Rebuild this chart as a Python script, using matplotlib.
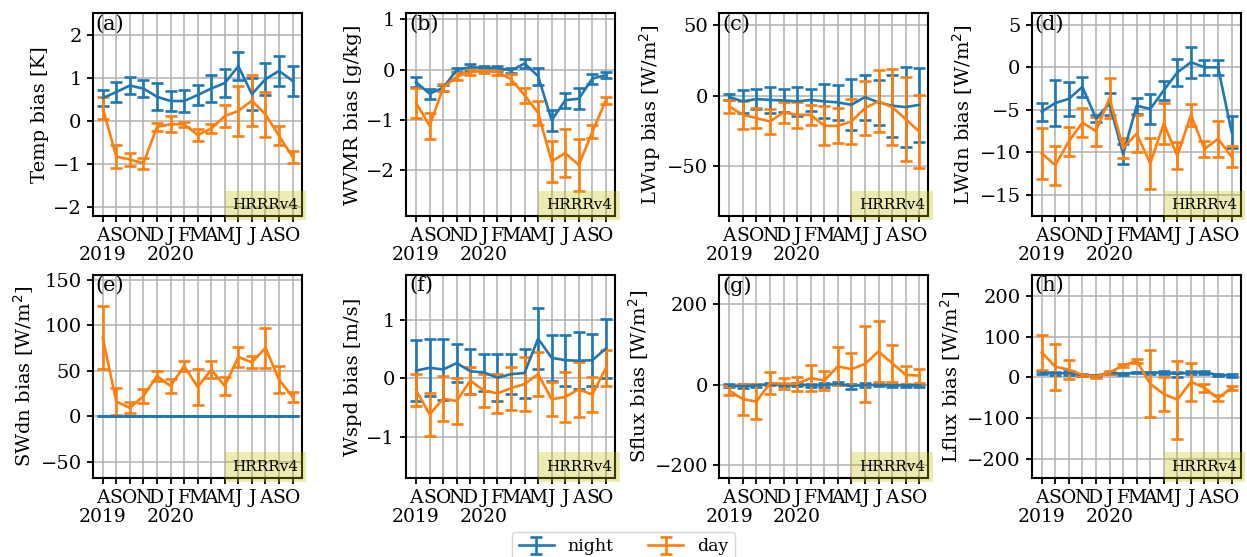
import matplotlib
matplotlib.use("Agg")
import matplotlib.pyplot as plt
import numpy as np

plt.rcParams['font.family'] = ['DejaVu Serif']
plt.rcParams['axes.unicode_minus'] = True

# Monthly periods: Aug 2019 .. Oct 2020
months = ["A\n2019", "S", "O", "N", "D", "J\n2020", "F", "M", "A", "M",
          "J", "J", "A", "S", "O"]

# (a) 2-m temperature bias [K]
temp_night = [0.53, 0.67, 0.82, 0.75, 0.56, 0.46, 0.46, 0.60, 0.75, 0.88,
              1.27, 0.62, 0.97, 1.16, 0.93]
temp_night_err = [0.19, 0.23, 0.19, 0.19, 0.32, 0.24, 0.25, 0.23, 0.31, 0.33,
                  0.32, 0.38, 0.37, 0.35, 0.35]
temp_day = [0.30, -0.83, -0.90, -0.99, -0.14, -0.08, -0.08, -0.33, -0.18, 0.11,
            0.23, 0.47, 0.15, -0.35, -0.84]
temp_day_err = [0.25, 0.27, 0.16, 0.13, 0.10, 0.19, 0.06, 0.13, 0.11, 0.25,
                0.58, 0.59, 0.52, 0.22, 0.13]

# (b) water vapour mixing ratio bias [g/kg]
wvmr_night = [-0.25, -0.48, -0.36, -0.01, 0.05, 0.03, 0.03, -0.02, 0.12, -0.13,
              -1.01, -0.61, -0.58, -0.18, -0.11]
wvmr_night_err = [0.10, 0.10, 0.06, 0.04, 0.07, 0.05, 0.05, 0.05, 0.09, 0.17,
                  0.21, 0.15, 0.21, 0.10, 0.06]
wvmr_day = [-0.66, -1.12, -0.36, -0.14, -0.05, -0.02, -0.05, -0.19, -0.51, -0.86,
            -1.83, -1.66, -1.90, -1.24, -0.61]
wvmr_day_err = [0.30, 0.26, 0.07, 0.07, 0.06, 0.04, 0.05, 0.10, 0.15, 0.24,
                0.40, 0.48, 0.51, 0.13, 0.07]

# (c) upwelling longwave bias [W/m2]
lwup_night = [-1.0, -4.0, -2.4, -3.0, -3.3, -4.0, -3.0, -4.0, -4.7, -6.4,
              -1.0, -4.7, -7.1, -8.0, -6.5]
lwup_night_err = [2.0, 8.0, 7.0, 9.0, 8.0, 10.0, 7.5, 12.0, 12.5, 18.0,
                  16.0, 15.7, 22.0, 28.0, 26.0]
lwup_day = [-7.6, -13.5, -15.9, -18.2, -11.8, -13.5, -13.5, -21.3, -21.3, -18.2,
            -8.8, -4.0, -8.0, -16.5, -25.4]
lwup_day_err = [4.8, 10.0, 7.0, 9.0, 7.5, 9.0, 7.0, 13.8, 12.3, 16.0,
                19.0, 22.0, 27.0, 30.0, 26.0]

# (d) downwelling longwave bias [W/m2]
lwdn_night = [-5.2, -4.2, -3.7, -2.3, -6.0, -4.3, -10.2, -4.5, -4.9, -2.7,
              -0.6, 0.6, 0.0, 0.0, -7.6]
lwdn_night_err = [1.05, 2.65, 2.0, 1.2, 0.4, 1.3, 1.2, 0.95, 1.8, 1.1,
                  1.6, 1.8, 0.9, 0.9, 1.9]
lwdn_day = [-10.1, -11.5, -8.7, -6.5, -7.5, -3.6, -9.5, -7.8, -11.3, -6.6,
            -10.4, -5.6, -9.6, -8.4, -10.5]
lwdn_day_err = [3.0, 2.3, 1.7, 1.7, 1.7, 2.3, 1.2, 2.2, 3.0, 2.4,
                1.6, 1.25, 0.9, 2.1, 1.2]

# (e) downwelling shortwave bias [W/m2]
swdn_night = [0.0] * 15
swdn_night_err = [0.0] * 15
swdn_day = [86.0, 16.0, 9.0, 22.0, 44.0, 33.0, 55.0, 32.0, 51.0, 33.0,
            65.0, 59.0, 75.0, 40.0, 21.0]
swdn_day_err = [34.5, 15.0, 6.0, 8.0, 5.0, 8.0, 5.5, 20.0, 9.0, 10.0,
                11.0, 6.5, 22.0, 15.0, 6.0]

# (f) wind speed bias [m/s]
wspd_night = [0.13, 0.18, 0.15, 0.26, 0.12, 0.10, 0.01, 0.07, 0.09, 0.68,
              0.35, 0.31, 0.30, 0.31, 0.51]
wspd_night_err = [0.52, 0.49, 0.52, 0.33, 0.39, 0.31, 0.40, 0.34, 0.42, 0.52,
                  0.40, 0.44, 0.49, 0.45, 0.50]
wspd_day = [-0.20, -0.62, -0.35, -0.39, -0.04, -0.21, -0.26, -0.17, -0.10, 0.07,
            -0.36, -0.32, -0.19, -0.28, 0.18]
wspd_day_err = [0.27, 0.37, 0.39, 0.40, 0.23, 0.28, 0.33, 0.37, 0.46, 0.38,
                0.29, 0.43, 0.47, 0.30, 0.31]

# (g) sensible heat flux bias [W/m2]
sflux_night = [-3, -4, -2, 1, -1, 0, -2, -1, 2, -4, -1, -1, -2, -2, -2]
sflux_night_err = [4, 5, 4, 3, 3, 3, 4, 5, 4, 6, 5, 3, 3, 3, 3]
sflux_day = [-15, -36, -42, 4, 2, 2, 16, 10, 45, 38, 51, 82, 53, 24, 22]
sflux_day_err = [11, 38, 43, 28, 14, 18, 32, 23, 47, 39, 93, 76, 46, 22, 17]

# (h) latent heat flux bias [W/m2]
lflux_night = [11, 10, 10, 6, 4, 11, 8, 12, 11, 12, 8, 12, 12, 6, 4]
lflux_night_err = [4, 4, 5, 2, 2, 2, 2, 2, 3, 4, 6, 4, 3, 3, 3]
lflux_day = [61, 26, 19, 6, 2, 12, 29, 40, -16, -41, -55, -11, -26, -51, -26]
lflux_day_err = [42, 56, 24, 3, 3, 3, 4, 4, 82, 41, 96, 46, 10, 7, 4]

panels = [
    ("(a)", "Temp bias [K]", temp_night, temp_night_err, temp_day, temp_day_err,
     (-2.22, 2.5), [-2, -1, 0, 1, 2]),
    ("(b)", "WVMR bias [g/kg]", wvmr_night, wvmr_night_err, wvmr_day, wvmr_day_err,
     (-2.92, 1.12), [-2, -1, 0, 1]),
    ("(c)", "LWup bias [W/m$^2$]", lwup_night, lwup_night_err, lwup_day, lwup_day_err,
     (-85.3, 58.3), [-50, 0, 50]),
    ("(d)", "LWdn bias [W/m$^2$]", lwdn_night, lwdn_night_err, lwdn_day, lwdn_day_err,
     (-17.5, 6.34), [-15, -10, -5, 0, 5]),
    ("(e)", "SWdn bias [W/m$^2$]", swdn_night, swdn_night_err, swdn_day, swdn_day_err,
     (-68, 155), [-50, 0, 50, 100, 150]),
    ("(f)", "Wspd bias [m/s]", wspd_night, wspd_night_err, wspd_day, wspd_day_err,
     (-1.71, 1.77), [-1, 0, 1]),
    ("(g)", "Sflux bias [W/m$^2$]", sflux_night, sflux_night_err, sflux_day, sflux_day_err,
     (-231, 271), [-200, 0, 200]),
    ("(h)", "Lflux bias [W/m$^2$]", lflux_night, lflux_night_err, lflux_day, lflux_day_err,
     (-247, 251), [-200, -100, 0, 100, 200]),
]

night_color = "#1f77b4"
day_color = "#ff7f0e"

W, H = 1247, 557
fig = plt.figure(figsize=(W / 100, H / 100), dpi=100)

col_left = [92.7, 406.0, 719.3, 1031.7]
row_top = [13.3, 275.0]
ax_w, ax_h = 209.0, 203.0

x = np.arange(len(months))
handles = None
for i, (tag, ylabel, yn, en, yd, ed, ylim, yticks) in enumerate(panels):
    r, c = divmod(i, 4)
    ax = fig.add_axes([col_left[c] / W, 1 - (row_top[r] + ax_h) / H, ax_w / W, ax_h / H])
    hn = ax.errorbar(x, yn, yerr=en, color=night_color, lw=1.9, elinewidth=1.9,
                     capsize=4.5, capthick=1.9, label="night", zorder=3)
    hd = ax.errorbar(x, yd, yerr=ed, color=day_color, lw=1.9, elinewidth=1.9,
                     capsize=4.5, capthick=1.9, label="day", zorder=3)
    if handles is None:
        handles = [hn, hd]
    ax.set_xlim(-0.74, 14.67)
    ax.set_ylim(*ylim)
    ax.set_xticks(x)
    ax.set_xticklabels(months, fontsize=13.5, linespacing=1.05)
    ax.set_yticks(yticks)
    ax.tick_params(axis='y', labelsize=14, width=1.3, length=4.5)
    ax.tick_params(axis='x', width=1.3, length=4.5)
    ax.grid(True, color="#b0b0b0", lw=1.1, zorder=0)
    ax.set_axisbelow(True)
    for s in ax.spines.values():
        s.set_linewidth(1.5)
    ax.set_ylabel(ylabel, fontsize=14, labelpad=3)
    ax.text(0.015, 0.995, tag, transform=ax.transAxes, ha="left", va="top",
            fontsize=15, zorder=5)
    ax.text(0.985, 0.02, "HRRRv4", transform=ax.transAxes, ha="right", va="bottom",
            fontsize=11, zorder=5,
            bbox=dict(boxstyle="square,pad=0.5", facecolor="y", alpha=0.3,
                      edgecolor="none"))

fig.legend(handles, ["night", "day"], loc="upper center", ncol=2,
           bbox_to_anchor=(0.5, 1 - 531.5 / H), borderaxespad=0.0, fontsize=12.5,
           columnspacing=2.0, handlelength=2.0, handletextpad=0.8, frameon=True)

fig.savefig("out.png", dpi=100)
